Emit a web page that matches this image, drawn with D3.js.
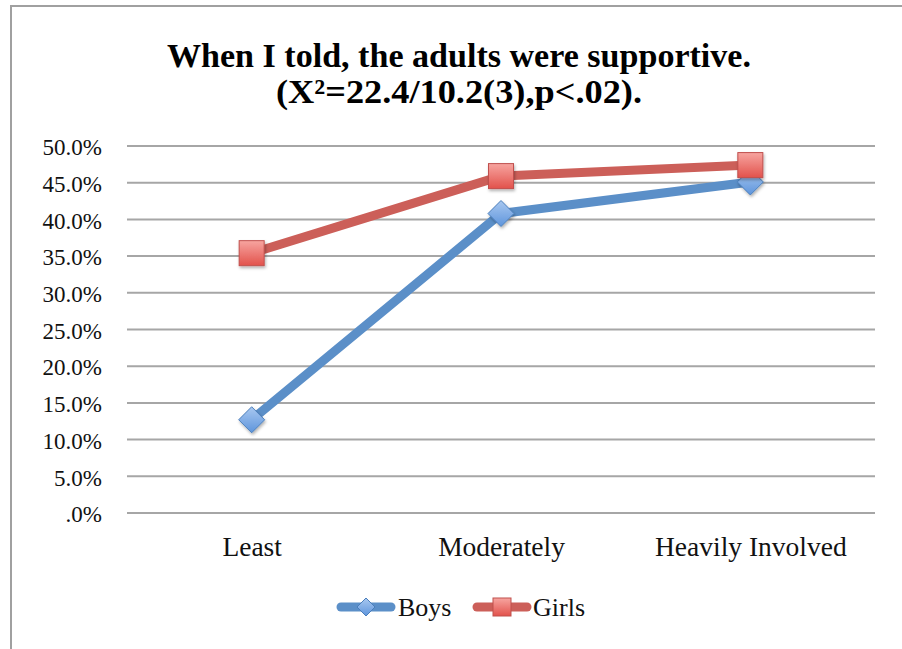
<!DOCTYPE html>
<html><head><meta charset="utf-8">
<script src="https://cdn.jsdelivr.net/npm/d3@7"></script>
<style>
html,body{margin:0;padding:0;background:#fff;}
svg{display:block;}
</style></head>
<body>
<script>
const categories = ["Least", "Moderately", "Heavily Involved"];
const boys = [12.7, 40.8, 45.1];
const girls = [35.4, 45.9, 47.4];
const yTicks = [0, 5, 10, 15, 20, 25, 30, 35, 40, 45, 50];
const seriesNames = ["Boys", "Girls"];
const titleLines = ["When I told, the adults were supportive.", "(X²=22.4/10.2(3),p<.02)."];

const W = 902, H = 649;
const m = {left: 127, right: 27, top: 146, bottom: 136};
const font = "'Liberation Serif', serif";

const svg = d3.select("body").append("svg").attr("width", W).attr("height", H);
const defs = svg.append("defs");

const gBlue = defs.append("linearGradient").attr("id","gBlue").attr("x1",0).attr("y1",0).attr("x2",0).attr("y2",1);
gBlue.append("stop").attr("offset","0%").attr("stop-color","#a9c8f0");
gBlue.append("stop").attr("offset","100%").attr("stop-color","#5e95dc");
const gRed = defs.append("linearGradient").attr("id","gRed").attr("x1",0).attr("y1",0).attr("x2",0).attr("y2",1);
gRed.append("stop").attr("offset","0%").attr("stop-color","#f7a5a0");
gRed.append("stop").attr("offset","100%").attr("stop-color","#e2524c");
const sh = defs.append("filter").attr("id","sh").attr("x","-50%").attr("y","-50%").attr("width","200%").attr("height","200%");
sh.append("feDropShadow").attr("dx",1).attr("dy",2).attr("stdDeviation",1.5).attr("flood-color","#000").attr("flood-opacity",0.3);

// frame
svg.append("path").attr("d", `M${11},${H} V${6} H${W}`).attr("fill","none").attr("stroke","#a0a0a0").attr("stroke-width",2);

const x = d3.scalePoint().domain(categories).range([m.left, W - m.right]).padding(0.5);
const y = d3.scaleLinear().domain([0, 50]).range([H - m.bottom, m.top]);

// gridlines
svg.append("g").selectAll("line").data(yTicks).join("line")
  .attr("x1", m.left).attr("x2", W - m.right)
  .attr("y1", d => y(d)).attr("y2", d => y(d))
  .attr("stroke", "#a6a6a6").attr("stroke-width", 2);

// y axis labels
const yAxis = d3.axisLeft(y).tickValues(yTicks).tickSize(0).tickPadding(0)
  .tickFormat(d => (d === 0 ? ".0" : d.toFixed(1)) + "%");
const ya = svg.append("g").attr("transform", `translate(${m.left - 25},0)`).call(yAxis);
ya.select(".domain").remove();
ya.selectAll("text").attr("font-family", font).attr("font-size", 23).attr("fill", "#111").attr("dy","0.38em");

// x axis labels
const xAxis = d3.axisBottom(x).tickSize(0).tickPadding(0);
const xa = svg.append("g").attr("transform", `translate(0,${y(0) + 24})`).call(xAxis);
xa.select(".domain").remove();
xa.selectAll("text").attr("font-family", font).attr("font-size", 27.5).attr("fill", "#111").attr("dy","0.7em");

const line = d3.line().x((d,i) => x(categories[i])).y(d => y(d));
const series = [
  {name: seriesNames[0], vals: boys, color: "#5b8fc8", stroke: "#4a7ebb", fill: "url(#gBlue)", shape: "diamond"},
  {name: seriesNames[1], vals: girls, color: "#cc5f59", stroke: "#c0504d", fill: "url(#gRed)", shape: "square"}
];

function marker(g, s, cx, cy) {
  if (s.shape === "diamond") {
    g.append("path").attr("d", `M${cx},${cy-13} L${cx+13},${cy} L${cx},${cy+13} L${cx-13},${cy} Z`)
      .attr("fill", s.fill).attr("stroke", s.stroke).attr("stroke-width", 1).attr("filter","url(#sh)");
  } else {
    g.append("rect").attr("x", cx-12.5).attr("y", cy-12.5).attr("width", 25).attr("height", 25)
      .attr("fill", s.fill).attr("stroke", s.stroke).attr("stroke-width", 1).attr("filter","url(#sh)");
  }
}

series.forEach(s => {
  svg.append("path").datum(s.vals).attr("d", line).attr("fill","none")
    .attr("stroke", s.color).attr("stroke-width", 9).attr("stroke-linejoin","round");
});
series.forEach(s => {
  const g = svg.append("g");
  s.vals.forEach((v,i) => marker(g, s, x(categories[i]), y(v)));
});

// title
const t = svg.append("text").attr("text-anchor","middle").attr("font-family", font)
  .attr("font-weight","bold").attr("font-size", 34).attr("fill","#000");
t.append("tspan").attr("x", 459).attr("y", 67).attr("textLength", 584).attr("lengthAdjust","spacingAndGlyphs").text(titleLines[0]);
t.append("tspan").attr("x", 459).attr("y", 103).attr("textLength", 366).attr("lengthAdjust","spacingAndGlyphs").text(titleLines[1]);

// legend
const lg = svg.append("g");
const legendPos = [{x0: 337, tx: 398}, {x0: 473, tx: 533}];
series.forEach((s,i) => {
  const p = legendPos[i];
  lg.append("line").attr("x1", p.x0 + 4).attr("x2", p.x0 + 54).attr("y1", 607).attr("y2", 607)
    .attr("stroke", s.color).attr("stroke-width", 9).attr("stroke-linecap","round");
  if (s.shape === "diamond") {
    lg.append("path").attr("d", `M${p.x0+29},${607-9} L${p.x0+38},${607} L${p.x0+29},${607+9} L${p.x0+20},${607} Z`)
      .attr("fill", s.fill).attr("stroke", s.stroke);
  } else {
    lg.append("rect").attr("x", p.x0+20).attr("y", 607-9).attr("width", 18).attr("height", 18)
      .attr("fill", s.fill).attr("stroke", s.stroke);
  }
  lg.append("text").attr("x", p.tx).attr("y", 607).attr("dy","0.35em")
    .attr("font-family", font).attr("font-size", 26).attr("fill","#111").text(s.name);
});
</script>
</body></html>
